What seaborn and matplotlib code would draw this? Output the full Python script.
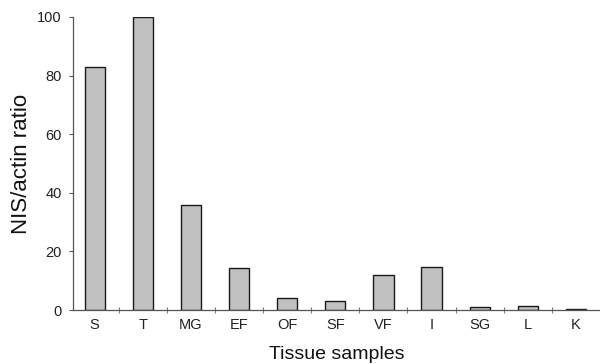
import matplotlib
matplotlib.use("Agg")
import matplotlib.pyplot as plt
import seaborn as sns
import pandas as pd
import numpy as np
from matplotlib.ticker import FixedLocator

categories = ["S", "T", "MG", "EF", "OF", "SF", "VF", "I", "SG", "L", "K"]
values = [83, 100, 35.7, 14.5, 4.0, 3.0, 12.0, 14.7, 0.9, 1.4, 0.3]
yticks = [0, 20, 40, 60, 80, 100]

df = pd.DataFrame({"tissue": categories, "ratio": values})

sns.set_theme(style="white")
plt.rcParams["font.family"] = ["Liberation Sans", "DejaVu Sans"]

fig = plt.figure(figsize=(6.0, 3.64), dpi=100)
ax = fig.add_axes([73/600, 54/364, 527/600, 293/364])

sns.barplot(data=df, x="tissue", y="ratio", color="#c0c0c0", edgecolor="#1a1a1a",
            linewidth=1.0, width=0.42, saturation=1, ax=ax)

ax.set_xlim(-0.45, 10.5)
ax.set_ylim(0, 100)
ax.set_yticks(yticks)
ax.set_yticklabels([str(t) for t in yticks], fontsize=10.5, color="#222222")
ax.tick_params(axis="y", length=3, width=0.8, color="#555555", direction="out", pad=5, left=True)
ax.tick_params(axis="x", which="major", length=0, pad=6, labelsize=10.5, labelcolor="#222222")
ax.xaxis.set_minor_locator(FixedLocator(np.arange(0.5, len(categories) - 0.5, 1)))
ax.tick_params(axis="x", which="minor", length=4, width=0.8, color="#777777", direction="inout", bottom=True)

for s in ["top", "right"]:
    ax.spines[s].set_visible(False)
for s in ["left", "bottom"]:
    ax.spines[s].set_color("#555555")
    ax.spines[s].set_linewidth(0.9)

ax.set_ylabel("NIS/actin ratio", fontsize=16, color="#111111", labelpad=4)
ax.set_xlabel("Tissue samples", fontsize=14, color="#111111", labelpad=10)

fig.savefig("out.png", dpi=100)
